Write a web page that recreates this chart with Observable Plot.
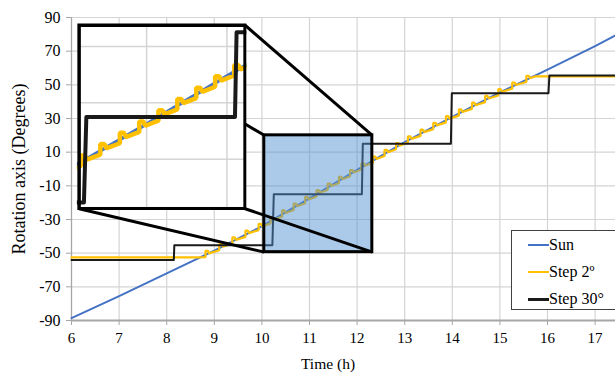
<!DOCTYPE html>
<html><head><meta charset="utf-8">
<script src="https://cdn.jsdelivr.net/npm/d3@7"></script>
<script src="https://cdn.jsdelivr.net/npm/@observablehq/plot@0.6"></script>
<style>
html,body{margin:0;padding:0;background:#fff;overflow:hidden;}
#wrap{position:relative;width:615px;height:375px;font-family:"Liberation Serif","Times New Roman",serif;color:#000;}
.legend{position:absolute;left:511px;top:230px;width:112px;height:80px;border:1.3px solid #404040;background:#fff;box-sizing:border-box;}
.li{position:absolute;left:37px;font-size:16px;line-height:16px;white-space:nowrap;}
.sw{position:absolute;left:-21px;top:7px;width:21px;height:0;}
</style></head><body><div id="wrap"></div>
<script>
// ---- data ----
const xTicks = [6,7,8,9,10,11,12,13,14,15,16,17];
const yTicks = [-90,-70,-50,-30,-10,10,30,50,70,90];
const seriesNames = ["Sun", "Step 2º", "Step 30°"];

// Sun tracking angle
const sunT = [6,7,8,9,10,11,12,13,14,15,16,17,17.44];
const sunV = [-88.6,-75.5,-62,-48.5,-34,-17.5,-0.5,16,31,45.5,59,73,79.5];

// Step 2º: flat start, then a tooth (jump) at each of these times/levels, then flat end
const step2StartT = [6, 8.65];
const step2StartV = [-52.5, -52.5];
const toothT = [8.815,9.103,9.379,9.655,9.931,10.182,10.424,10.667,10.909,11.147,11.382,11.618,11.853,12.091,12.333,12.576,12.818,13.067,13.333,13.6,13.867,14.138,14.414,14.69,14.966,15.259,15.556];
const toothV = [-51,-47,-43,-39,-35,-31,-27,-23,-19,-15,-11,-7,-3,1,5,9,13,17,21,25,29,33,37,41,45,49,53];
const step2EndT = [15.74, 17.44];
const step2EndV = [55, 55];

// Step 30°
const step30T = [6,8.15,8.16,10.22,10.25,12.1,12.12,13.97,13.99,16.02,16.04,17.44];
const step30V = [-54,-54,-45.3,-45.3,-15,-15,15,15,45,45,55.5,55.5];

// zoom region (data units) and where its magnified copy sits (data units)
const zoomBox = {x1: 10.05, x2: 12.32, y1: -49.4, y2: 20};
const insetBox = {x1: 6.16, x2: 9.647, y1: -23.6, y2: 85.4};
const insetDomX = [10.16, 12.226];
const insetDomY = [-47.5, 17.5];

// ---- build tables ----
const sun = sunT.map((t,i)=>({t, v: sunV[i]}));
// tooth drawing shape (jump, short overshoot plateau, settle)
const toothShape = [[0, -1.3], [0, 2.4], [0.05, 2.4], [0.075, 0.9]];
const s2 = [
  ...step2StartT.map((t,i)=>({t, v: step2StartV[i]})),
  ...toothT.flatMap((t,i)=> toothShape.map(([dt, dv]) => ({t: t + dt, v: toothV[i] + dv}))),
  ...step2EndT.map((t,i)=>({t, v: step2EndV[i]}))
];
const s30 = step30T.map((t,i)=>({t, v: step30V[i]}));
const colors = {sun: "#4472c4", s2: "#ffc000", s30: "#1a1a1a"};
const grid = "#d4d4d4";
const xMax = 6 + (615 - 71) / 47.6;
const FONT = "'Liberation Serif','Times New Roman',serif";

const links = [
  {x1: insetBox.x1, y1: insetBox.y2, x2: zoomBox.x1, y2: zoomBox.y2},
  {x1: insetBox.x2, y1: insetBox.y2, x2: zoomBox.x2, y2: zoomBox.y2},
  {x1: insetBox.x1, y1: insetBox.y1, x2: zoomBox.x1, y2: zoomBox.y1},
  {x1: insetBox.x2, y1: insetBox.y1, x2: zoomBox.x2, y2: zoomBox.y1}
];

const main = Plot.plot({
  width: 615, height: 375,
  marginLeft: 71, marginTop: 17, marginBottom: 55, marginRight: 0,
  style: {fontFamily: FONT, fontSize: "14px", background: "white", overflow: "hidden"},
  x: {domain: [6, xMax], ticks: xTicks, tickSize: 5, tickPadding: 7, label: null, tickFormat: d => String(d)},
  y: {domain: [-90, 90], ticks: yTicks, tickSize: 5, tickPadding: 6, label: null, tickFormat: d => String(d)},
  marks: [
    Plot.ruleX(xTicks, {stroke: grid, strokeWidth: 1.2}),
    Plot.ruleY(yTicks, {stroke: grid, strokeWidth: 1.2}),
    Plot.ruleX([6], {stroke: "#a6a6a6", strokeWidth: 1.2}),
    Plot.ruleY([-90], {stroke: "#a6a6a6", strokeWidth: 1.8}),
    Plot.line(sun, {x: "t", y: "v", stroke: colors.sun, strokeWidth: 2}),
    Plot.line(s2, {x: "t", y: "v", stroke: colors.s2, strokeWidth: 2.2, strokeLinejoin: "miter"}),
    Plot.line(s30, {x: "t", y: "v", stroke: colors.s30, strokeWidth: 2}),
    Plot.rect([zoomBox], {x1: "x1", x2: "x2", y1: "y1", y2: "y2", fill: "#4f8fd0", fillOpacity: 0.48, stroke: "black", strokeWidth: 3}),
    Plot.link(links, {x1: "x1", y1: "y1", x2: "x2", y2: "y2", stroke: "black", strokeWidth: 3})
  ]
});

// style tick texts and tick lines
main.querySelectorAll("text").forEach(t => {
  const g = t.closest("g[aria-label]");
  const lab = g ? g.getAttribute("aria-label") : "";
  t.style.fontFamily = FONT;
  t.setAttribute("fill", "#000");
  t.style.fontSize = lab.startsWith("y") ? "16px" : "15px";
});
main.querySelectorAll("g[aria-label] line, g[aria-label] path").forEach(el => {
  const lab = el.closest("g[aria-label]").getAttribute("aria-label");
  if (lab.includes("axis")) el.setAttribute("stroke", "#a6a6a6");
});

const mx = main.scale("x"), my = main.scale("y");
const L = mx.apply(insetBox.x1), R = mx.apply(insetBox.x2);
const T = my.apply(insetBox.y2), B = my.apply(insetBox.y1);
const pad = 1.75;
const iw = R - L + 2*pad, ih = B - T + 2*pad;
const inset = Plot.plot({
  width: iw, height: ih,
  margin: 0, marginLeft: pad, marginRight: pad, marginTop: pad, marginBottom: pad,
  x: {domain: insetDomX, axis: null},
  y: {domain: insetDomY, axis: null},
  marks: [
    Plot.frame({fill: "white"}),
    Plot.ruleX(xTicks.filter(d => d > insetDomX[0] && d < insetDomX[1]), {stroke: grid, strokeWidth: 1.5}),
    Plot.ruleY(yTicks.filter(d => d > insetDomY[0] && d < insetDomY[1]), {stroke: grid, strokeWidth: 1.5}),
    Plot.line(sun, {x: "t", y: "v", stroke: colors.sun, strokeWidth: 3.5}),
    Plot.line(s2, {x: "t", y: "v", stroke: colors.s2, strokeWidth: 4.5, strokeLinejoin: "miter"}),
    Plot.line(s30, {x: "t", y: "v", stroke: colors.s30, strokeWidth: 4}),
    Plot.frame({stroke: "black", strokeWidth: 3.5})
  ]
});
inset.removeAttribute("class");
inset.querySelectorAll("style").forEach(s => s.remove());
inset.setAttribute("style", "overflow:hidden;max-width:none;");
inset.style.width = iw + "px";
inset.style.height = ih + "px";
inset.setAttribute("x", L - pad);
inset.setAttribute("y", T - pad);
inset.setAttribute("width", iw);
inset.setAttribute("height", ih);
main.appendChild(inset);

// axis titles
const sel = d3.select(main);
sel.append("text").attr("transform", "translate(21,169) rotate(-90)")
  .attr("text-anchor", "middle").attr("dominant-baseline", "middle")
  .style("font-family", FONT).style("font-size", "18px").text("Rotation axis (Degrees)");
sel.append("text").attr("x", 328).attr("y", 365)
  .attr("text-anchor", "middle").attr("dominant-baseline", "middle")
  .style("font-family", FONT).style("font-size", "15.5px").text("Time (h)");

const wrap = document.getElementById("wrap");
wrap.appendChild(main);

// legend
const leg = document.createElement("div");
leg.className = "legend";
const legColors = [colors.sun, colors.s2, colors.s30];
const legWidths = [2, 2.5, 3];
seriesNames.forEach((n, i) => {
  const d = document.createElement("div");
  d.className = "li";
  d.style.top = (6 + i * 27) + "px";
  const sw = document.createElement("span");
  sw.className = "sw";
  sw.style.borderTop = legWidths[i] + "px solid " + legColors[i];
  d.appendChild(sw);
  d.appendChild(document.createTextNode(n));
  leg.appendChild(d);
});
wrap.appendChild(leg);
</script>
</body></html>
